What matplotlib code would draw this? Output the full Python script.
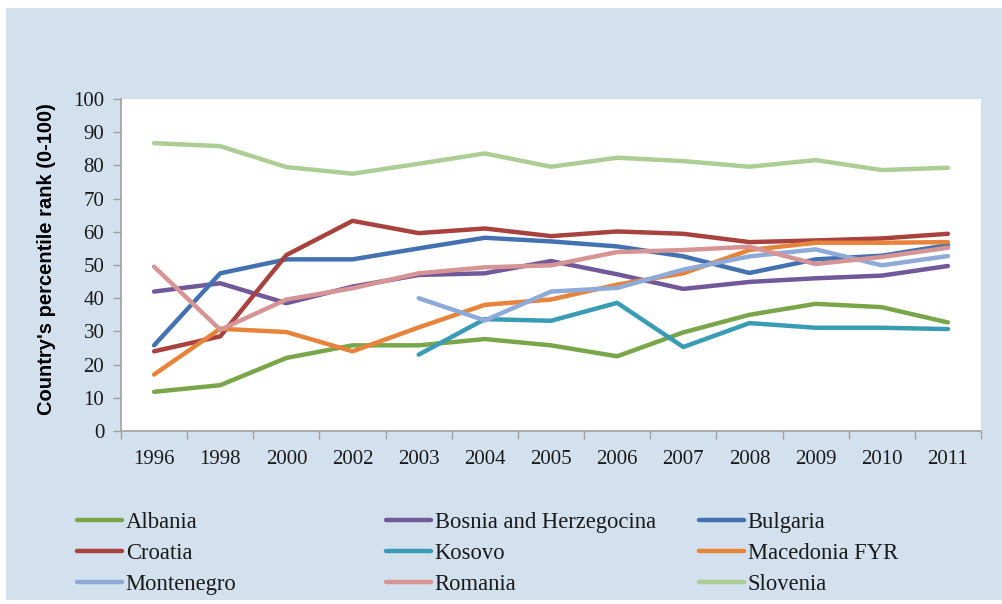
import numpy as np
import matplotlib
matplotlib.use("Agg")
from matplotlib import pyplot as plt
from matplotlib.patches import Rectangle

nan = np.nan
years = ["1996", "1998", "2000", "2002", "2003", "2004", "2005", "2006",
         "2007", "2008", "2009", "2010", "2011"]

albania = [11.8, 13.8, 22.0, 25.8, 25.8, 27.7, 25.8, 22.5, 29.7, 35.0, 38.3, 37.3, 32.7]
bosnia = [42.0, 44.5, 38.5, 43.5, 47.0, 47.5, 51.2, 47.2, 42.8, 44.9, 46.0, 46.8, 49.7]
bulgaria = [25.8, 47.5, 51.7, 51.7, 55.0, 58.2, 57.1, 55.6, 52.6, 47.6, 51.7, 52.8, 56.0]
croatia = [24.0, 28.5, 53.0, 63.3, 59.6, 61.0, 58.7, 60.1, 59.4, 56.9, 57.4, 58.0, 59.4]
kosovo = [nan, nan, nan, nan, 23.0, 33.7, 33.2, 38.6, 25.3, 32.5, 31.1, 31.1, 30.7]
macedonia = [17.0, 30.8, 29.8, 24.0, 31.2, 38.0, 39.6, 44.1, 47.5, 54.5, 56.7, 56.7, 56.9]
montenegro = [nan, nan, nan, nan, 40.0, 33.3, 42.0, 43.1, 48.6, 52.6, 54.7, 49.9, 52.7]
romania = [49.5, 30.5, 39.6, 43.0, 47.5, 49.3, 49.9, 53.9, 54.5, 55.5, 50.3, 52.4, 55.2]
slovenia = [86.7, 85.8, 79.5, 77.5, 80.5, 83.6, 79.6, 82.3, 81.3, 79.6, 81.6, 78.6, 79.3]

names = ["Albania", "Bosnia and Herzegocina", "Bulgaria", "Croatia", "Kosovo",
         "Macedonia FYR", "Montenegro", "Romania", "Slovenia"]
series = [albania, bosnia, bulgaria, croatia, kosovo, macedonia, montenegro, romania, slovenia]
colors = ["#7aa64a", "#71589b", "#4472b1", "#a8423f", "#3a9bb5",
          "#e8833a", "#8eaad8", "#d69495", "#acce95"]

serif = ["Liberation Serif", "DejaVu Serif"]

fig = plt.figure(figsize=(10.03, 6.04), dpi=100)
fig.patch.set_facecolor("white")
fig.patches.append(Rectangle((6 / 1003, 4 / 604), 997 / 1003, 592 / 604,
                             transform=fig.transFigure, facecolor="#d3e0ed",
                             edgecolor="none", zorder=-10))

ax = fig.add_axes([121 / 1003, 1 - 431 / 604, 860 / 1003, 332 / 604])
ax.set_facecolor("white")

x = np.arange(len(years))
lines = []
for vals, name, c in zip(series, names, colors):
    ln, = ax.plot(x, vals, color=c, lw=3.2, label=name, solid_capstyle="round")
    lines.append(ln)

ax.set_xlim(-0.5, len(years) - 0.5)
ax.set_ylim(0, 100)
ax.set_yticks(range(0, 101, 10))
ax.set_xticks(x)
ax.set_xticklabels(years)
ax.set_xticks(np.arange(-0.5, len(years), 1), minor=True)
ax.tick_params(axis="x", which="major", length=0, pad=14)
ax.tick_params(axis="x", which="minor", length=6, color="#a0a0a0", width=1)
ax.tick_params(axis="y", length=6, color="#a0a0a0", width=1, pad=6)
for lab in ax.get_xticklabels() + ax.get_yticklabels():
    lab.set_family(serif)
    lab.set_fontsize(15)
    lab.set_color("#1a1a1a")

for s in ["top", "right"]:
    ax.spines[s].set_visible(False)
for s in ["left", "bottom"]:
    ax.spines[s].set_color("#a0a0a0")
    ax.spines[s].set_linewidth(1.2)

fig.text(47 / 1003, 1 - 259 / 604, "Country's percentile rank (0-100)",
         rotation=90, ha="center", va="center", fontsize=14.5,
         fontweight="bold", family=["Liberation Sans", "DejaVu Sans"])

# legend: three columns of equal width, rows filled left to right
col_x = [77 / 1003, 386 / 1003, 699 / 1003]
for j in range(3):
    hs = [lines[j], lines[j + 3], lines[j + 6]]
    leg = fig.legend(hs, [h.get_label() for h in hs], loc="upper left",
                     bbox_to_anchor=(col_x[j], 1 - 512 / 604), frameon=False,
                     handlelength=2.0, handletextpad=0.15, labelspacing=0.44,
                     borderaxespad=0, borderpad=0,
                     prop={"family": serif, "size": 16.3})
    for t in leg.get_texts():
        t.set_color("#1a1a1a")

fig.savefig("out.png", dpi=100, facecolor=fig.get_facecolor())
